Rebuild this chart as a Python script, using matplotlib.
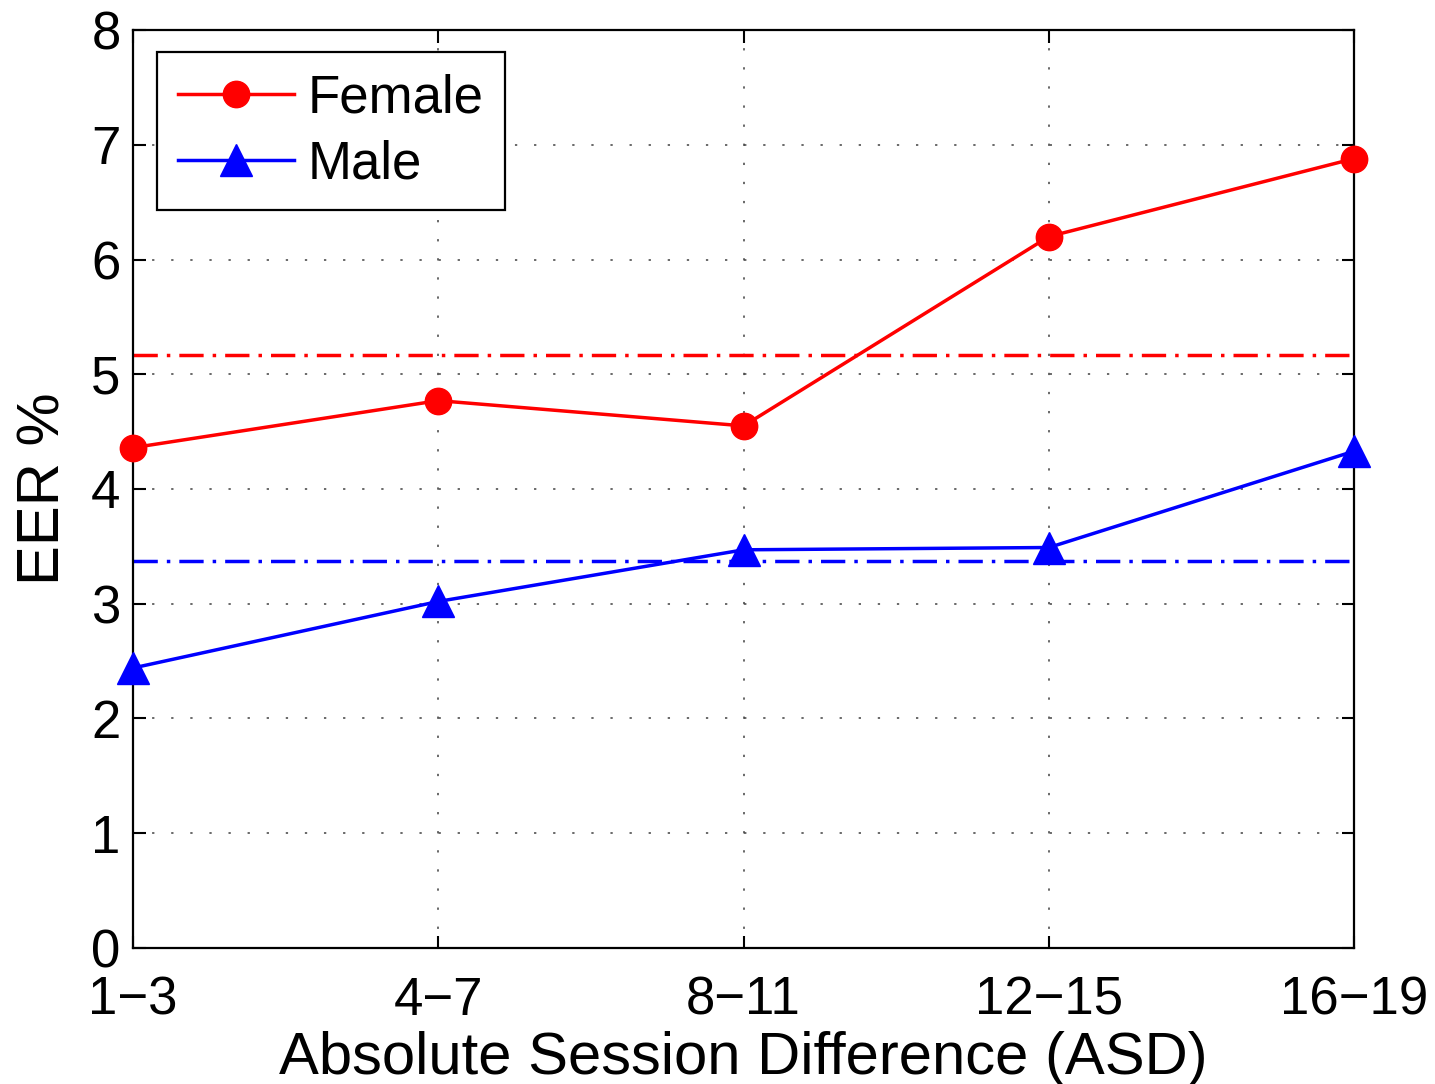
import matplotlib.pyplot as plt

plt.rcParams['font.family'] = ['Liberation Sans', 'DejaVu Sans']

# EER per session-difference bin
asd_labels = ['1\u22123', '4\u22127', '8\u221211', '12\u221215', '16\u221219']
female_eer = [4.36, 4.77, 4.55, 6.20, 6.88]
male_eer = [2.44, 3.02, 3.47, 3.49, 4.33]
female_mean = 5.17
male_mean = 3.37

x = list(range(len(asd_labels)))

fig = plt.figure(figsize=(14.35, 10.84), dpi=100)
ax = fig.add_axes([0.0927, 0.1255, 0.851, 0.8468])

dashdot = (0, (7.0, 2.6, 1.0, 2.6))
ax.axhline(female_mean, color='red', lw=2.5, linestyle=dashdot, zorder=2)
ax.axhline(male_mean, color='blue', lw=2.5, linestyle=dashdot, zorder=2)

ax.plot(x, female_eer, '-o', color='red', lw=2.5, markersize=19,
        label='Female', zorder=3, clip_on=False)
ax.plot(x, male_eer, '-^', color='blue', lw=2.5, markersize=23,
        label='Male', zorder=3, clip_on=False)

ax.set_xlim(0, len(asd_labels) - 1)
ax.set_ylim(0, 8)
ax.set_xticks(x)
ax.set_xticklabels(asd_labels)
ax.set_yticks(range(0, 9))

ax.grid(True, color='0.25', linestyle=(0, (1.5, 11)), lw=1.1)
ax.tick_params(direction='in', length=9, width=1.5, top=True, right=True,
               labelsize=38)
ax.tick_params(axis='x', pad=20)
ax.tick_params(axis='y', pad=9)
for s in ax.spines.values():
    s.set_linewidth(1.6)

ax.set_xlabel('Absolute Session Difference (ASD)', fontsize=43, labelpad=4)
ax.set_ylabel('EER %', fontsize=43, labelpad=14)

leg = ax.legend(loc='upper left', bbox_to_anchor=(0.0197, 0.976),
                borderaxespad=0, fontsize=38, handlelength=2.2,
                handletextpad=0.25, labelspacing=0.3, borderpad=0.4,
                fancybox=False, framealpha=1, edgecolor='k')
leg.get_frame().set_linewidth(1.6)

fig.savefig('out.png', dpi=100)
